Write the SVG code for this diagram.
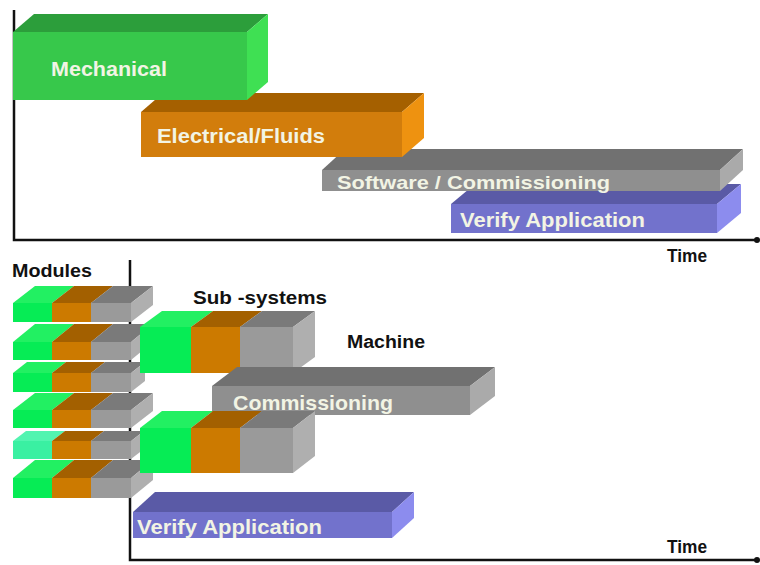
<svg xmlns="http://www.w3.org/2000/svg" width="760" height="565" viewBox="0 0 760 565">
<style>
.axis{stroke:#111;stroke-width:2.5;fill:none}
.lbl{font-family:"Liberation Sans",Arial,sans-serif;font-weight:bold;font-size:18px;fill:#111}
.bt{font-family:"Liberation Sans",Arial,sans-serif;font-weight:bold;font-size:20px;fill:#f2f4e4}
.gF{fill:#37c84b}.gT{fill:#2c9e3b}.gS{fill:#3fe053}
.oF{fill:#d27d0c}.oT{fill:#a56000}.oS{fill:#ee9210}
.sF{fill:#8f8f8f}.sT{fill:#717171}.sS{fill:#aaaaaa}
.vF{fill:#7272cc}.vT{fill:#5a5aa6}.vS{fill:#8c8cee}
.mg{fill:#06ec55}.mgt{fill:#22f062}.mm{fill:#3af0a2}.mmt{fill:#52f4b0}
.mo{fill:#cc7a00}.mot{fill:#a36000}
.my{fill:#9a9a9a}.myt{fill:#7a7a7a}.mys{fill:#afafaf}
</style>
<g id="connectors">
<polyline class="axis" points="14,10 14,240 757,240"/>
<circle cx="757" cy="240" r="3" fill="#111"/>
<polyline class="axis" points="130,260 130,560 757,560"/>
<circle cx="757" cy="560" r="3" fill="#111"/>
</g>
<g id="verify-top">
<polygon class="vT" points="451,204 475,184 741,184 717,204"/>
<polygon class="vS" points="717,204 741,184 741,213 717,233"/>
<rect class="vF" x="451" y="204" width="266" height="29"/>
<text class="bt" x="460" y="227" textLength="185" lengthAdjust="spacingAndGlyphs">Verify Application</text>
</g>
<g id="software">
<polygon class="sT" points="322,170 345,149 743,149 720,170"/>
<polygon class="sS" points="720,170 743,149 743,170 720,191"/>
<rect class="sF" x="322" y="170" width="398" height="21"/>
<text class="bt" x="337" y="189" style="font-size:19px" textLength="273" lengthAdjust="spacingAndGlyphs">Software / Commissioning</text>
</g>
<g id="electrical">
<polygon class="oT" points="141,112 163,93 424,93 402,112"/>
<polygon class="oS" points="402,112 424,93 424,138 402,157"/>
<rect class="oF" x="141" y="112" width="261" height="45"/>
<text class="bt" x="157" y="143" textLength="168" lengthAdjust="spacingAndGlyphs">Electrical/Fluids</text>
</g>
<g id="mechanical">
<polygon class="gT" points="13,32 34,14 268,14 247,32"/>
<polygon class="gS" points="247,32 268,14 268,82 247,100"/>
<rect class="gF" x="13" y="32" width="234" height="68"/>
<text class="bt" x="51" y="76" textLength="116" lengthAdjust="spacingAndGlyphs">Mechanical</text>
</g>
<text class="lbl" x="667" y="262" textLength="40" lengthAdjust="spacingAndGlyphs">Time</text>
<text class="lbl" x="12" y="277" textLength="80" lengthAdjust="spacingAndGlyphs">Modules</text>
<text class="lbl" x="193" y="304" textLength="134" lengthAdjust="spacingAndGlyphs">Sub  -systems</text>
<text class="lbl" x="347" y="348" textLength="78" lengthAdjust="spacingAndGlyphs">Machine</text>
<text class="lbl" x="667" y="553" textLength="40" lengthAdjust="spacingAndGlyphs">Time</text>
<g id="module-1">
<polygon class="mgt" points="13,303 35,286 74,286 52,303"/>
<polygon class="mot" points="52,303 74,286 113,286 91,303"/>
<polygon class="myt" points="91,303 113,286 153,286 131,303"/>
<polygon class="mys" points="131,303 153,286 153,305 131,322"/>
<rect class="mg" x="13" y="303" width="39" height="19"/>
<rect class="mo" x="52" y="303" width="39" height="19"/>
<rect class="my" x="91" y="303" width="40" height="19"/>
</g>
<g id="module-2">
<polygon class="mgt" points="13,342 35,324 74,324 52,342"/>
<polygon class="mot" points="52,342 74,324 113,324 91,342"/>
<polygon class="myt" points="91,342 113,324 153,324 131,342"/>
<polygon class="mys" points="131,342 153,324 153,342 131,360"/>
<rect class="mg" x="13" y="342" width="39" height="18"/>
<rect class="mo" x="52" y="342" width="39" height="18"/>
<rect class="my" x="91" y="342" width="40" height="18"/>
</g>
<g id="module-3">
<polygon class="mgt" points="13,373 27,362 66,362 52,373"/>
<polygon class="mot" points="52,373 66,362 105,362 91,373"/>
<polygon class="myt" points="91,373 105,362 145,362 131,373"/>
<polygon class="mys" points="131,373 145,362 145,381 131,392"/>
<rect class="mg" x="13" y="373" width="39" height="19"/>
<rect class="mo" x="52" y="373" width="39" height="19"/>
<rect class="my" x="91" y="373" width="40" height="19"/>
</g>
<g id="module-4">
<polygon class="mgt" points="13,410 35,393 74,393 52,410"/>
<polygon class="mot" points="52,410 74,393 113,393 91,410"/>
<polygon class="myt" points="91,410 113,393 153,393 131,410"/>
<polygon class="mys" points="131,410 153,393 153,411 131,428"/>
<rect class="mg" x="13" y="410" width="39" height="18"/>
<rect class="mo" x="52" y="410" width="39" height="18"/>
<rect class="my" x="91" y="410" width="40" height="18"/>
</g>
<g id="module-5">
<polygon class="mmt" points="13,441 26,431 65,431 52,441"/>
<polygon class="mot" points="52,441 65,431 104,431 91,441"/>
<polygon class="myt" points="91,441 104,431 144,431 131,441"/>
<polygon class="mys" points="131,441 144,431 144,449 131,459"/>
<rect class="mm" x="13" y="441" width="39" height="18"/>
<rect class="mo" x="52" y="441" width="39" height="18"/>
<rect class="my" x="91" y="441" width="40" height="18"/>
</g>
<g id="module-6">
<polygon class="mgt" points="13,478 35,460 74,460 52,478"/>
<polygon class="mot" points="52,478 74,460 113,460 91,478"/>
<polygon class="myt" points="91,478 113,460 153,460 131,478"/>
<polygon class="mys" points="131,478 153,460 153,480 131,498"/>
<rect class="mg" x="13" y="478" width="39" height="20"/>
<rect class="mo" x="52" y="478" width="39" height="20"/>
<rect class="my" x="91" y="478" width="40" height="20"/>
</g>
<g id="subsystem-1">
<polygon class="mgt" points="140,327 162,311 213,311 191,327"/>
<polygon class="mot" points="191,327 213,311 262,311 240,327"/>
<polygon class="myt" points="240,327 262,311 315,311 293,327"/>
<polygon class="mys" points="293,327 315,311 315,357 293,373"/>
<rect class="mg" x="140" y="327" width="51" height="46"/>
<rect class="mo" x="191" y="327" width="49" height="46"/>
<rect class="my" x="240" y="327" width="53" height="46"/>
</g>
<g id="commissioning">
<polygon class="sT" points="212,386 237,367 495,367 470,386"/>
<polygon class="sS" points="470,386 495,367 495,396 470,415"/>
<rect class="sF" x="212" y="386" width="258" height="29"/>
<text class="bt" x="233" y="410" style="font-size:21px" textLength="160" lengthAdjust="spacingAndGlyphs">Commissioning</text>
</g>
<g id="subsystem-2">
<polygon class="mgt" points="140,428 162,411 213,411 191,428"/>
<polygon class="mot" points="191,428 213,411 262,411 240,428"/>
<polygon class="myt" points="240,428 262,411 315,411 293,428"/>
<polygon class="mys" points="293,428 315,411 315,456 293,473"/>
<rect class="mg" x="140" y="428" width="51" height="45"/>
<rect class="mo" x="191" y="428" width="49" height="45"/>
<rect class="my" x="240" y="428" width="53" height="45"/>
</g>
<g id="verify-bottom">
<polygon class="vT" points="133,512 155,492 414,492 392,512"/>
<polygon class="vS" points="392,512 414,492 414,518 392,538"/>
<rect class="vF" x="133" y="512" width="259" height="26"/>
<text class="bt" x="137" y="534" style="font-size:21px" textLength="185" lengthAdjust="spacingAndGlyphs">Verify Application</text>
</g>
</svg>
